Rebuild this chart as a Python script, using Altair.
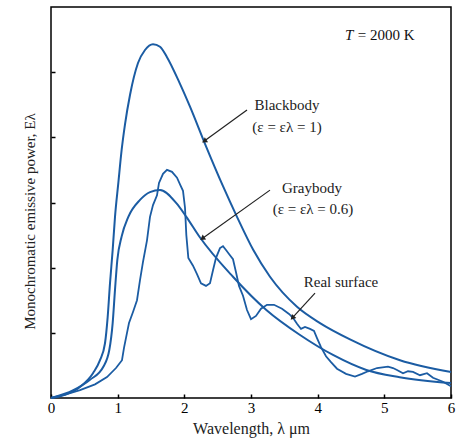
import altair as alt
import pandas as pd

# ---- data (x: wavelength in um, y: emissive power, arbitrary units) ----
blackbody_x = [0.00, 0.21, 0.435, 0.63, 0.735, 0.81, 0.85, 0.885, 0.925, 0.96, 1.01, 1.06, 1.11, 1.185,
               1.305, 1.41, 1.53, 1.635, 1.74, 1.935, 2.085, 2.31, 2.58, 2.79, 3.035, 3.285, 3.69,
               4.035, 4.485, 5.235, 6.0]
blackbody_y = [0.00, 0.05, 0.17, 0.38, 0.58, 0.84, 1.24, 1.76, 2.27, 2.78, 3.30, 3.81, 4.20, 4.65,
               5.14, 5.34, 5.43, 5.39, 5.23, 4.82, 4.47, 3.90, 3.25, 2.78, 2.27, 1.86, 1.40,
               1.15, 0.90, 0.58, 0.40]

graybody_x = [0.00, 0.335, 0.585, 0.785, 0.875, 0.925, 0.96, 0.995, 1.06, 1.16, 1.335, 1.485, 1.635,
              1.88, 2.03, 2.23, 2.73, 3.23, 3.73, 4.23, 4.73, 5.23, 6.0]
graybody_y = [0.00, 0.12, 0.28, 0.48, 0.74, 1.15, 1.66, 2.12, 2.48, 2.78, 3.04, 3.16, 3.19,
              2.99, 2.78, 2.47, 1.86, 1.35, 0.97, 0.66, 0.43, 0.32, 0.23]

real_x = [0.00, 0.21, 0.435, 0.66, 0.84, 0.975, 1.065, 1.095, 1.14, 1.17, 1.23, 1.29, 1.335, 1.38,
          1.44, 1.485, 1.53, 1.59, 1.62, 1.68, 1.74, 1.815, 1.89, 1.935, 1.98, 2.01, 2.03, 2.06,
          2.13, 2.19, 2.25, 2.325, 2.385, 2.43, 2.475, 2.535, 2.58, 2.625, 2.67, 2.73, 2.775,
          2.82, 2.88, 2.94, 3.00, 3.075, 3.15, 3.24, 3.345, 3.465, 3.57, 3.63, 3.69, 3.75, 3.81,
          3.885, 3.945, 3.99, 4.05, 4.125, 4.2, 4.29, 4.425, 4.56, 4.665, 4.755, 4.89, 5.055,
          5.13, 5.19, 5.28, 5.355, 5.43, 5.535, 5.64, 5.73, 5.88, 6.0]
real_y = [0.00, 0.05, 0.12, 0.21, 0.32, 0.46, 0.58, 0.77, 1.00, 1.15, 1.32, 1.50, 1.81, 2.09,
          2.42, 2.78, 2.96, 3.11, 3.30, 3.44, 3.50, 3.47, 3.38, 3.28, 3.18, 2.92, 2.50, 2.15,
          2.03, 1.90, 1.76, 1.72, 1.76, 1.96, 2.15, 2.30, 2.33, 2.27, 2.21, 2.13, 1.93,
          1.72, 1.57, 1.35, 1.21, 1.26, 1.37, 1.43, 1.43, 1.37, 1.29, 1.23, 1.14, 1.06, 1.09,
          1.06, 1.03, 0.92, 0.78, 0.64, 0.55, 0.45, 0.37, 0.33, 0.37, 0.41, 0.46, 0.48,
          0.46, 0.43, 0.38, 0.41, 0.40, 0.35, 0.38, 0.31, 0.25, 0.18]

x_ticks = [0, 1, 2, 3, 4, 5, 6]
y_ticks = [1, 2, 3, 4, 5]

# annotation texts (data coordinates)
label_text = ["Blackbody", "(ε = ελ = 1)", "Graybody", "(ε = ελ = 0.6)", "Real surface"]
label_x = [3.54, 3.54, 3.915, 3.93, 4.35]
label_y = [4.50, 4.16, 3.22, 2.90, 1.78]

# arrows: tail -> tip
arrow_x = [2.94, 3.285, 3.96]
arrow_y = [4.42, 3.19, 1.61]
arrow_x2 = [2.31, 2.28, 3.63]
arrow_y2 = [3.95, 2.455, 1.24]
arrow_angle = [237, 234, 222]

BLUE = "#1b5ca3"
SERIF = "Liberation Serif"

curves = pd.concat([
    pd.DataFrame({"x": blackbody_x, "y": blackbody_y, "s": "Blackbody"}),
    pd.DataFrame({"x": graybody_x, "y": graybody_y, "s": "Graybody"}),
])
real = pd.DataFrame({"x": real_x, "y": real_y})
labels = pd.DataFrame({"x": label_x, "y": label_y, "t": label_text})
arrows = pd.DataFrame({"x": arrow_x, "y": arrow_y, "x2": arrow_x2, "y2": arrow_y2, "a": arrow_angle})

xscale = alt.Scale(domain=[0, 6], nice=False, zero=False)
yscale = alt.Scale(domain=[0, 6], nice=False, zero=False)

xaxis = alt.Axis(values=x_ticks, format="d", domain=False, grid=False, tickSize=4, offset=-4,
                 tickColor="black", tickWidth=1.5, labelFont=SERIF, labelFontSize=15,
                 labelColor="black", labelPadding=2, labelFlush=False,
                 title="Wavelength, λ μm", titleFont=SERIF, titleFontSize=16,
                 titleFontWeight="normal", titleColor="#222", titlePadding=5)
yaxis = alt.Axis(values=y_ticks, labels=False, domain=False, grid=False, tickSize=4, offset=-4,
                 tickColor="black", tickWidth=1.5,
                 title="Monochromatic emissive power, Eλ", titleFont=SERIF, titleFontSize=15,
                 titleFontWeight="normal", titleColor="#222", titlePadding=13, titleY=214)

smooth = alt.Chart(curves).mark_line(color=BLUE, strokeWidth=2, interpolate="monotone").encode(
    x=alt.X("x:Q", scale=xscale, axis=xaxis),
    y=alt.Y("y:Q", scale=yscale, axis=yaxis),
    detail="s:N",
)
rough = alt.Chart(real).mark_line(color=BLUE, strokeWidth=1.8).encode(
    x=alt.X("x:Q", scale=xscale),
    y=alt.Y("y:Q", scale=yscale),
    order=alt.Order("x:Q"),
)
text = alt.Chart(labels).mark_text(font=SERIF, fontSize=15, color="#222").encode(
    x="x:Q", y="y:Q", text="t:N")

t_italic = alt.Chart(pd.DataFrame({"x": [4.41], "y": [5.57], "t": ["T"]})).mark_text(
    font=SERIF, fontSize=15, fontStyle="italic", color="#111", align="left").encode(
    x="x:Q", y="y:Q", text="t:N")
t_rest = alt.Chart(pd.DataFrame({"x": [4.60], "y": [5.57], "t": ["= 2000 K"]})).mark_text(
    font=SERIF, fontSize=15, color="#111", align="left").encode(
    x="x:Q", y="y:Q", text="t:N")

arrow_lines = alt.Chart(arrows).mark_rule(color="#222", strokeWidth=1.2).encode(
    x="x:Q", y="y:Q", x2="x2:Q", y2="y2:Q")
arrow_heads = alt.Chart(arrows).mark_point(shape="triangle", filled=True, color="#222",
                                           size=35, opacity=1).encode(
    x=alt.X("x2:Q"), y=alt.Y("y2:Q"), angle=alt.Angle("a:Q", scale=None))

chart = alt.layer(smooth, rough, text, t_italic, t_rest, arrow_lines, arrow_heads).properties(
    width=400, height=391,
    autosize=alt.AutoSizeParams(type="none"),
    padding={"left": 51, "top": 7, "right": 7, "bottom": 45},
    background="white",
).configure_view(stroke="black", strokeWidth=1.5)

chart.save("out.html", embed_options={"renderer": "svg", "actions": False})
